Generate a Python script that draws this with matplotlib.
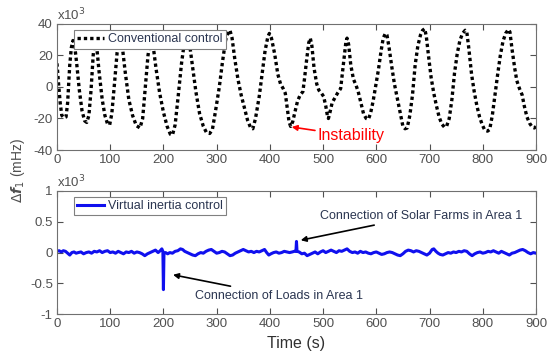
import matplotlib
matplotlib.use("Agg")
import matplotlib.pyplot as plt
from matplotlib.ticker import FuncFormatter

plt.rcParams['font.family'] = ['Liberation Sans', 'DejaVu Sans']
plt.rcParams['axes.unicode_minus'] = False

# conventional control (x10^3 mHz)
t_conv = [0, 3, 6, 9, 13, 17, 20, 24, 27, 30, 33, 37, 42, 47, 52, 56, 60, 64, 68, 71,
          74, 79, 85, 90, 95, 99, 103, 108, 113, 118, 122, 128, 135, 142, 149, 156, 161, 166, 171, 176,
          180, 186, 193, 200, 207, 213, 217, 222, 228, 234, 240, 244, 248, 254, 261, 268, 275, 281, 287, 292,
          298, 305, 311, 317, 322, 325, 329, 334, 340, 346, 352, 358, 364, 368, 373, 380, 386, 391, 396, 399,
          403, 409, 415, 420, 425, 429, 433, 436, 439, 443, 447, 452, 457, 462, 465, 469, 473, 476, 479, 483,
          488, 492, 497, 501, 505, 508, 510, 513, 517, 522, 527, 533, 536, 540, 543, 545, 548, 552, 557, 562,
          566, 571, 576, 581, 585, 589, 594, 599, 604, 609, 613, 617, 620, 624, 629, 634, 640, 645, 650, 654,
          658, 663, 668, 673, 678, 683, 687, 691, 694, 698, 703, 708, 713, 718, 723, 728, 732, 737, 742, 747,
          752, 757, 762, 767, 770, 774, 779, 784, 789, 794, 799, 804, 809, 813, 818, 823, 828, 833, 838, 843,
          848, 851, 855, 860, 864, 869, 874, 878, 883, 888, 893, 897, 900]
f_conv = [15, 2, -10, -18, -19.5, -19, -10, 14, 25, 29.5, 27, 15, -2, -15, -21.5, -22.5, -18, -2, 20, 31,
          28, 10, -8, -18, -23.5, -24, -17, 2, 22, 31, 28, 10, -8, -18, -24.5, -26, -20, 0, 20, 31,
          28, 12, -4, -16, -25, -30, -30.5, -24, -5, 15, 30, 33, 30, 15, -3, -17, -25, -29, -29.5, -27,
          -15, 0, 16, 30, 35, 36, 31, 18, 5, -5, -13, -21, -26, -26.5, -20, -6, 10, 23, 31.5, 34,
          31, 21, 8, 2, -1, -4, -14, -22, -25, -22, -16, -9, -5, -3, 5, 17, 28, 31, 26, 12,
          2, -2, -4, -6, -12, -18, -20, -16, -10, -7, -4, -1, 8, 20, 29, 31, 27, 14, 5, 1,
          -3, -10, -17, -20, -20.5, -17, -9, 1, 11, 23, 31, 34, 33, 25, 13, 2, -8, -16, -25, -26.5,
          -26, -18, -5, 14, 26, 33, 36, 37, 32, 20, 6, -4, -12, -19, -23.5, -25.5, -25, -20, -8, 9,
          21, 29.5, 34, 36, 35, 24, 8, -3, -12, -19, -24, -27.5, -28, -27, -18, -5, 8, 20, 29, 34,
          36.5, 35, 24, 12, 4, -1, -5, -12, -19, -23, -25.5, -26, -25]

# virtual inertia control (x10^3 mHz)
t_vi = [0, 4, 8, 12, 16, 20, 24, 28, 32, 36, 40, 45, 50, 55, 60, 65, 70, 75, 80, 85,
        90, 95, 100, 105, 110, 115, 120, 125, 130, 135, 140, 145, 150, 155, 160, 165, 170, 175, 180, 185,
        190, 194, 197, 199, 200, 201, 204, 208, 212, 217, 222, 227, 232, 236, 240, 245, 250, 255, 260, 265,
        270, 275, 280, 285, 290, 295, 300, 305, 310, 315, 320, 325, 330, 335, 340, 345, 350, 355, 360, 365,
        370, 375, 380, 385, 390, 394, 398, 402, 407, 412, 417, 422, 427, 432, 437, 442, 446, 449, 450, 451,
        455, 460, 465, 470, 475, 480, 485, 490, 495, 500, 505, 510, 515, 520, 525, 530, 535, 540, 545, 550,
        555, 560, 565, 570, 575, 580, 585, 590, 595, 600, 605, 610, 615, 620, 625, 630, 635, 640, 645, 650,
        655, 660, 665, 670, 675, 680, 685, 690, 695, 700, 705, 708, 712, 716, 720, 725, 730, 735, 740, 745,
        750, 755, 760, 765, 770, 775, 780, 785, 790, 795, 800, 805, 810, 815, 820, 825, 830, 835, 840, 845,
        850, 855, 860, 865, 870, 875, 880, 885, 890, 895, 900]
f_vi = [0.02, 0.03, 0.01, 0.03, 0.02, -0.01, -0.04, 0.0, 0.01, -0.01, 0.0, 0.01, -0.02, 0.0, 0.01, -0.01, 0.02, 0.01, 0.03, 0.0,
        0.02, 0.03, 0.0, 0.01, -0.01, 0.02, 0.0, -0.02, 0.01, 0.0, 0.02, -0.01, 0.01, 0.0, -0.02, -0.05, -0.02, 0.0, 0.02, 0.04,
        0.0, 0.03, 0.06, 0.02, -0.6, -0.02, 0.0, -0.02, 0.0, -0.01, 0.02, 0.03, 0.06, 0.05, 0.02, 0.0, -0.02, -0.04, -0.05, -0.02,
        0.0, -0.01, 0.02, 0.04, 0.05, 0.02, -0.01, 0.0, 0.02, 0.01, -0.02, -0.05, -0.04, -0.01, 0.01, 0.03, 0.05, 0.03, 0.01, 0.02,
        0.0, 0.02, 0.01, 0.03, 0.05, 0.0, -0.04, -0.02, 0.0, 0.01, -0.01, 0.0, 0.02, 0.01, 0.0, 0.01, 0.02, 0.02, 0.18, 0.02,
        0.01, -0.02, -0.01, -0.05, -0.03, -0.01, 0.01, -0.02, 0.01, 0.03, 0.0, 0.02, 0.04, 0.02, 0.0, 0.03, 0.02, 0.04, 0.06, 0.02,
        0.0, 0.01, -0.01, 0.02, 0.0, 0.01, -0.01, -0.02, 0.0, 0.01, -0.01, -0.03, -0.02, 0.0, 0.01, 0.0, -0.02, -0.04, -0.05, -0.02,
        0.02, 0.04, 0.03, 0.01, 0.03, 0.02, 0.0, -0.02, -0.04, -0.01, 0.05, 0.06, 0.02, -0.01, -0.03, -0.04, -0.02, 0.0, -0.01, 0.01,
        0.0, 0.02, 0.01, 0.03, 0.02, -0.02, -0.05, -0.02, 0.0, 0.01, -0.01, 0.0, 0.02, 0.01, 0.03, 0.01, -0.01, 0.02, 0.0, -0.02,
        -0.04, -0.01, 0.0, 0.02, 0.04, 0.05, 0.03, 0.0, -0.02, 0.0, -0.01]

x_ticks = [0, 100, 200, 300, 400, 500, 600, 700, 800, 900]
y_ticks_top = [-40, -20, 0, 20, 40]
y_ticks_bot = [-1, -0.5, 0, 0.5, 1]

grey = '#505050'
txt = '#2a3550'

fig = plt.figure(figsize=(5.5, 3.58), dpi=100)
ax1 = fig.add_axes([0.1036, 0.581, 0.8709, 0.352])
ax2 = fig.add_axes([0.1036, 0.122, 0.8709, 0.345])

ax1.plot(t_conv, f_conv, color='black', lw=2.4, linestyle=(0, (1, 0.9)),
         dash_capstyle='butt', label='Conventional control')
ax2.plot(t_vi, f_vi, color='#1010ee', lw=2.2, label='Virtual inertia control')

fmt = FuncFormatter(lambda v, p: '%g' % v)
for ax, yt in [(ax1, y_ticks_top), (ax2, y_ticks_bot)]:
    ax.set_xlim(0, 900)
    ax.set_ylim(yt[0], yt[-1])
    ax.set_xticks(x_ticks)
    ax.set_yticks(yt)
    ax.yaxis.set_major_formatter(fmt)
    ax.tick_params(direction='in', top=True, right=True, length=4, width=0.8,
                   labelsize=9.5, colors=grey, pad=3)
    for s in ax.spines.values():
        s.set_color('#707070')
        s.set_linewidth(0.8)
    ax.text(0.0, 1.005, r'x10$^{3}$', transform=ax.transAxes, fontsize=9.5,
            color=grey, ha='left', va='bottom')
    leg = ax.legend(loc='upper left', bbox_to_anchor=(0.035, 0.95), fontsize=9,
                    frameon=True, fancybox=False, edgecolor='#808080',
                    framealpha=1.0, borderpad=0.25, handlelength=2.2,
                    handletextpad=0.3, borderaxespad=0.0)
    leg.get_frame().set_linewidth(0.8)
    leg.set_zorder(5)
    for tx in leg.get_texts():
        tx.set_color(txt)

ax1.annotate('Instability', xy=(441, -25.4), xytext=(490, -31),
             color='red', fontsize=11.5, va='center', ha='left',
             arrowprops=dict(arrowstyle='-|>', color='red', lw=1.2,
                             mutation_scale=8, shrinkA=0, shrinkB=0))
ax2.annotate('Connection of Solar Farms in Area 1', xy=(458, 0.2), xytext=(494, 0.6),
             color=txt, fontsize=9, va='center', ha='left',
             arrowprops=dict(arrowstyle='-|>', color='black', lw=1.2,
                             mutation_scale=8, shrinkA=3, shrinkB=0))
ax2.annotate('Connection of Loads in Area 1', xy=(218, -0.36), xytext=(259, -0.7),
             color=txt, fontsize=9, va='center', ha='left',
             arrowprops=dict(arrowstyle='-|>', color='black', lw=1.2,
                             mutation_scale=8, shrinkA=3, shrinkB=0))

ax2.set_xlabel('Time (s)', fontsize=11.5, color='#303030', labelpad=4)
fig.text(0.033, 0.525, r'$\Delta \mathbfit{f}_1$ (mHz)', rotation=90,
         fontsize=10, color=grey, ha='center', va='center')

fig.savefig('out.png', dpi=100)
